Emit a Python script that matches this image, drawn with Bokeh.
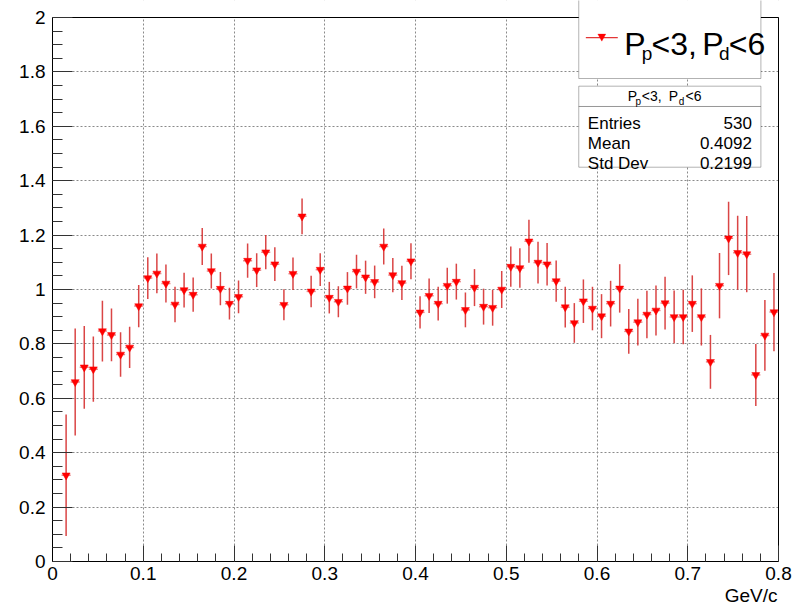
from bokeh.plotting import figure
from bokeh.models import (ColumnDataSource, Range1d, SingleIntervalTicker, Title,
                          CustomJSTickFormatter, BoxAnnotation, PolyAnnotation, Label)
from bokeh.embed import file_html
from bokeh.resources import INLINE

# ---------------- data ----------------
bin_centers = [0.015, 0.025, 0.035, 0.045, 0.055, 0.065, 0.075, 0.085, 0.095,
               0.105, 0.115, 0.125, 0.135, 0.145, 0.155, 0.165, 0.175, 0.185, 0.195,
               0.205, 0.215, 0.225, 0.235, 0.245, 0.255, 0.265, 0.275, 0.285, 0.295,
               0.305, 0.315, 0.325, 0.335, 0.345, 0.355, 0.365, 0.375, 0.385, 0.395,
               0.405, 0.415, 0.425, 0.435, 0.445, 0.455, 0.465, 0.475, 0.485, 0.495,
               0.505, 0.515, 0.525, 0.535, 0.545, 0.555, 0.565, 0.575, 0.585, 0.595,
               0.605, 0.615, 0.625, 0.635, 0.645, 0.655, 0.665, 0.675, 0.685, 0.695,
               0.705, 0.715, 0.725, 0.735, 0.745, 0.755, 0.765, 0.775, 0.785, 0.795]

values = [0.317, 0.660, 0.714, 0.707, 0.847, 0.833, 0.761, 0.787, 0.939,
          1.042, 1.059, 1.022, 0.945, 0.998, 0.981, 1.158, 1.068, 1.003, 0.948,
          0.973, 1.106, 1.071, 1.137, 1.093, 0.944, 1.058, 1.269, 0.993, 1.073,
          0.970, 0.955, 1.004, 1.066, 1.045, 1.028, 1.158, 1.053, 1.024, 1.104,
          0.916, 0.977, 0.948, 1.014, 1.029, 0.925, 1.007, 0.937, 0.933, 1.000,
          1.084, 1.079, 1.177, 1.099, 1.093, 1.031, 0.935, 0.877, 0.957, 0.930,
          0.902, 0.948, 1.004, 0.846, 0.880, 0.908, 0.923, 0.950, 0.899, 0.899,
          0.948, 0.899, 0.734, 1.014, 1.188, 1.135, 1.130, 0.686, 0.831, 0.917]

errors = [0.223, 0.197, 0.152, 0.120, 0.112, 0.097, 0.082, 0.076, 0.078,
          0.077, 0.073, 0.070, 0.065, 0.064, 0.063, 0.068, 0.064, 0.061, 0.058,
          0.060, 0.063, 0.062, 0.063, 0.062, 0.057, 0.060, 0.066, 0.058, 0.060,
          0.058, 0.057, 0.060, 0.062, 0.061, 0.060, 0.066, 0.063, 0.063, 0.066,
          0.059, 0.063, 0.062, 0.066, 0.066, 0.064, 0.068, 0.066, 0.066, 0.068,
          0.074, 0.073, 0.079, 0.077, 0.078, 0.076, 0.075, 0.073, 0.080, 0.080,
          0.081, 0.084, 0.089, 0.082, 0.086, 0.087, 0.092, 0.097, 0.097, 0.100,
          0.104, 0.105, 0.099, 0.120, 0.135, 0.136, 0.140, 0.114, 0.130, 0.144]

bin_half_width = 0.005
x_lim = [0.0, 0.8]
y_lim = [0.0, 2.0]

legend_label = ["P", "p", "<3,", "P", "d", "<6"]
stat_names = ["Entries", "Mean", "Std Dev"]
stat_values = ["530", "0.4092", "0.2199"]
x_axis_title = "GeV/c"

# ---------------- figure ----------------
FONT = "Liberation Sans"
RED = "#ff0000"
BAR = "#d42525"

# frame: x 0..0.8 -> px 52..778 ; y 0..2 -> px 561..17 (frame reaches canvas top)
p = figure(width=792, height=609, output_backend="svg", toolbar_location=None,
           x_range=Range1d(0, 0.8022), y_range=Range1d(0, 2.0625),
           min_border_left=52, min_border_right=12, min_border_top=0,
           min_border_bottom=48)
p.background_fill_color = "white"
p.border_fill_color = "white"
p.outline_line_color = None

src = ColumnDataSource(dict(
    x=bin_centers, y=values,
    lo=[v - e for v, e in zip(values, errors)],
    hi=[v + e for v, e in zip(values, errors)],
    xl=[c - bin_half_width for c in bin_centers],
    xr=[c + bin_half_width for c in bin_centers],
))

# frame top / right edges
p.segment(x0=[x_lim[0], x_lim[1]], y0=[y_lim[1], y_lim[0]],
          x1=[x_lim[1], x_lim[1]], y1=[y_lim[1], y_lim[1]],
          line_color="black", line_width=1)

p.segment(x0="x", y0="lo", x1="x", y1="hi", source=src,
          line_color=BAR, line_width=1.5, line_alpha=0.85)
p.segment(x0="xl", y0="y", x1="xr", y1="y", source=src,
          line_color=BAR, line_width=1.5, line_alpha=0.55)
p.scatter(x="x", y="y", source=src, marker="inverted_triangle", size=8,
          fill_color=RED, line_color=RED, line_width=0.5)

# axes
fmt = CustomJSTickFormatter(code="return tick.toFixed(1).replace(/\\.0$/, '');")
p.xaxis.ticker = SingleIntervalTicker(interval=0.1, num_minor_ticks=5)
p.yaxis.ticker = SingleIntervalTicker(interval=0.2, num_minor_ticks=4)
p.xaxis.bounds = tuple(x_lim)
p.yaxis.bounds = tuple(y_lim)
for ax in (p.xaxis[0], p.yaxis[0]):
    ax.formatter = fmt
    ax.major_tick_out = 0
    ax.minor_tick_out = 0
    ax.axis_line_color = "black"
    ax.major_tick_line_color = "#333333"
    ax.minor_tick_line_color = "#333333"
    ax.major_label_text_font = FONT
    ax.major_label_text_font_size = "19px"
    ax.major_label_text_color = "black"
p.xaxis.major_tick_in = 16
p.xaxis.minor_tick_in = 8
p.yaxis.major_tick_in = 20
p.yaxis.minor_tick_in = 10
p.xaxis.major_label_standoff = 5
p.yaxis.major_label_standoff = 7

for g in (p.xgrid[0], p.ygrid[0]):
    g.grid_line_color = "#8a8a8a"
    g.grid_line_dash = "2 2"
    g.grid_line_width = 1
p.xgrid.ticker = p.xaxis.ticker
p.ygrid.ticker = p.yaxis.ticker

# x axis title (below the axis, right aligned)
p.add_layout(Title(text=x_axis_title, align="right", text_font=FONT,
                   text_font_size="19px", text_font_style="normal",
                   text_color="black", standoff=0, offset=3), "below")

# white covers outside the histogram frame (above y=2, right of x=0.8)
p.add_layout(BoxAnnotation(left=-0.1, right=0.9, bottom=2.002, top=2.5,
                           fill_color="white", fill_alpha=1, line_alpha=0,
                           level="overlay"))
p.add_layout(BoxAnnotation(left=0.8007, right=0.9, bottom=-0.5, top=2.5,
                           fill_color="white", fill_alpha=1, line_alpha=0,
                           level="overlay"))

# ---------------- legend box ----------------
p.add_layout(BoxAnnotation(left=0.5799, right=0.7806, bottom=1.7757, top=2.3,
                           fill_color="white", fill_alpha=1, line_color="black",
                           line_width=1, level="overlay"))
p.add_layout(BoxAnnotation(left=0.5877, right=0.6229, bottom=1.9235, top=1.9285,
                           fill_color="#e02020", fill_alpha=0.9, line_alpha=0,
                           level="overlay"))
p.add_layout(PolyAnnotation(xs=[0.6009, 0.6097, 0.6053], ys=[1.939, 1.939, 1.913],
                            fill_color=RED, fill_alpha=1, line_color=RED,
                            level="overlay"))

leg_x = [0.6301, 0.6494, 0.6600, 0.7160, 0.7343, 0.7453]
leg_y = [1.904, 1.868, 1.904, 1.904, 1.868, 1.904]
leg_sz = ["32px", "19px", "32px", "32px", "19px", "32px"]
for t, xx, yy, sz in zip(legend_label, leg_x, leg_y, leg_sz):
    p.add_layout(Label(x=xx, y=yy, text=t, text_font=FONT, text_font_size=sz,
                       text_baseline="alphabetic", text_color="black", level="overlay"))

# ---------------- stats box ----------------
p.add_layout(BoxAnnotation(left=0.5799, right=0.7806, bottom=1.6728, top=1.7475,
                           fill_color="white", fill_alpha=1, line_color="black",
                           line_width=1, level="overlay"))
p.add_layout(BoxAnnotation(left=0.5799, right=0.7806, bottom=1.4496, top=1.6728,
                           fill_color="white", fill_alpha=1, line_color="black",
                           line_width=1, level="overlay"))
st_x = [0.6340, 0.6425, 0.6494, 0.6790, 0.6900, 0.6975]
st_y = [1.7132, 1.693, 1.7132, 1.7132, 1.693, 1.7132]
st_sz = ["14px", "10px", "14px", "14px", "10px", "14px"]
for t, xx, yy, sz in zip(legend_label, st_x, st_y, st_sz):
    p.add_layout(Label(x=xx, y=yy, text=t, text_font=FONT, text_font_size=sz,
                       text_baseline="alphabetic", text_color="black", level="overlay"))

row_y = [1.6115, 1.5379, 1.4643]
for name, val, yy in zip(stat_names, stat_values, row_y):
    p.add_layout(Label(x=0.5899, y=yy, text=name, text_font=FONT, text_font_size="17px",
                       text_baseline="alphabetic", text_color="black", level="overlay"))
    p.add_layout(Label(x=0.7707, y=yy, text=val, text_font=FONT, text_font_size="17px",
                       text_align="right", text_baseline="alphabetic",
                       text_color="black", level="overlay"))

open("out.html", "w").write(file_html(p, INLINE))
